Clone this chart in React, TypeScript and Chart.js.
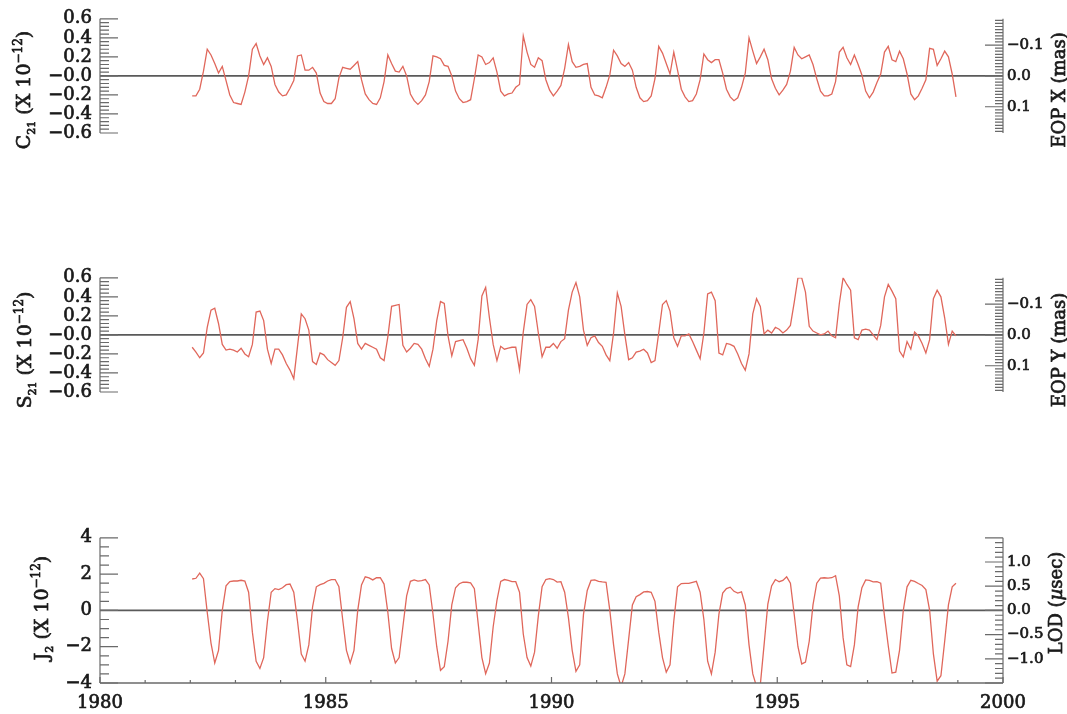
import React, { useEffect, useRef } from 'react';
import { Chart, registerables } from 'chart.js';

Chart.register(...registerables);

// ---------------- data (monthly, Jan 1982 – Dec 1998) ----------------
const FIRST_YEAR = 1982;

const c21: number[] = [
  -0.21, -0.21, -0.14, 0.05, 0.28, 0.22, 0.13, 0.03, 0.10, -0.05, -0.20, -0.28,
  -0.29, -0.30, -0.17, 0.00, 0.28, 0.34, 0.21, 0.12, 0.19, 0.10, -0.09, -0.17,
  -0.21, -0.20, -0.13, -0.05, 0.21, 0.22, 0.06, 0.06, 0.09, 0.03, -0.18, -0.27,
  -0.29, -0.29, -0.24, -0.02, 0.09, 0.08, 0.07, 0.11, 0.15, -0.04, -0.19, -0.25,
  -0.29, -0.30, -0.23, -0.06, 0.22, 0.13, 0.05, 0.04, 0.10, 0.00, -0.19, -0.26,
  -0.30, -0.26, -0.20, -0.06, 0.21, 0.20, 0.18, 0.11, 0.10, 0.00, -0.16, -0.24,
  -0.28, -0.27, -0.25, -0.03, 0.22, 0.20, 0.12, 0.14, 0.19, 0.04, -0.16, -0.21,
  -0.19, -0.18, -0.12, -0.09, 0.42, 0.25, 0.12, 0.09, 0.19, 0.16, -0.04, -0.15,
  -0.21, -0.16, -0.10, 0.08, 0.33, 0.15, 0.09, 0.10, 0.12, 0.13, -0.12, -0.20,
  -0.21, -0.23, -0.12, 0.01, 0.27, 0.21, 0.13, 0.10, 0.14, 0.06, -0.12, -0.23,
  -0.27, -0.26, -0.21, -0.03, 0.31, 0.24, 0.13, 0.02, 0.25, 0.06, -0.14, -0.22,
  -0.27, -0.26, -0.19, -0.04, 0.23, 0.17, 0.14, 0.17, 0.17, 0.03, -0.14, -0.22,
  -0.26, -0.23, -0.12, 0.03, 0.40, 0.26, 0.13, 0.20, 0.28, 0.17, -0.03, -0.13,
  -0.20, -0.15, -0.09, 0.05, 0.30, 0.22, 0.18, 0.20, 0.22, 0.12, -0.03, -0.16,
  -0.21, -0.21, -0.19, -0.06, 0.25, 0.30, 0.19, 0.12, 0.22, 0.12, 0.01, -0.16,
  -0.23, -0.17, -0.07, 0.02, 0.25, 0.31, 0.17, 0.15, 0.26, 0.18, 0.02, -0.19,
  -0.25, -0.21, -0.13, -0.04, 0.29, 0.28, 0.11, 0.18, 0.26, 0.20, 0.02, -0.22,
];

const s21: number[] = [
  -0.13, -0.18, -0.24, -0.19, 0.08, 0.26, 0.28, 0.12, -0.10, -0.16, -0.15, -0.16,
  -0.18, -0.14, -0.20, -0.23, -0.10, 0.24, 0.25, 0.15, -0.15, -0.30, -0.15, -0.15,
  -0.21, -0.30, -0.37, -0.46, -0.12, 0.22, 0.17, 0.05, -0.28, -0.31, -0.19, -0.21,
  -0.26, -0.29, -0.32, -0.27, -0.03, 0.29, 0.35, 0.17, -0.09, -0.15, -0.09, -0.11,
  -0.13, -0.15, -0.24, -0.27, -0.02, 0.30, 0.31, 0.32, -0.11, -0.18, -0.14, -0.09,
  -0.10, -0.15, -0.25, -0.33, -0.15, 0.15, 0.35, 0.33, -0.01, -0.22, -0.07, -0.06,
  -0.05, -0.14, -0.25, -0.32, -0.05, 0.41, 0.50, 0.18, -0.10, -0.27, -0.12, -0.15,
  -0.14, -0.13, -0.13, -0.37, 0.03, 0.32, 0.37, 0.30, 0.02, -0.23, -0.13, -0.13,
  -0.09, -0.14, -0.07, -0.04, 0.26, 0.45, 0.55, 0.40, 0.05, -0.11, -0.03, -0.01,
  -0.08, -0.12, -0.21, -0.27, 0.02, 0.44, 0.30, 0.00, -0.26, -0.24, -0.18, -0.17,
  -0.15, -0.19, -0.29, -0.27, 0.02, 0.32, 0.36, 0.25, -0.03, -0.12, -0.01, -0.01,
  0.01, -0.07, -0.16, -0.25, 0.02, 0.43, 0.45, 0.36, -0.19, -0.21, -0.09, -0.10,
  -0.12, -0.20, -0.30, -0.37, -0.20, 0.22, 0.38, 0.30, 0.01, 0.05, 0.02, 0.08,
  0.06, 0.02, 0.05, 0.10, 0.34, 0.60, 0.60, 0.45, 0.09, 0.04, 0.02, 0.00,
  0.01, 0.04, -0.01, -0.03, 0.33, 0.60, 0.53, 0.47, -0.03, -0.05, 0.05, 0.06,
  0.05, 0.00, -0.05, 0.10, 0.40, 0.53, 0.46, 0.38, -0.17, -0.23, -0.07, -0.15,
  0.03, -0.01, -0.09, -0.19, -0.05, 0.38, 0.47, 0.40, 0.18, -0.10, 0.04, -0.01,
];

const j2: number[] = [
  1.73, 1.77, 2.05, 1.75, -0.10, -1.80, -2.90, -2.20, 0.00, 1.35, 1.59, 1.62,
  1.62, 1.66, 1.62, 1.00, -1.20, -2.80, -3.20, -2.60, -0.60, 1.00, 1.20, 1.15,
  1.25, 1.42, 1.45, 1.00, -0.60, -2.40, -2.80, -1.90, 0.20, 1.30, 1.42, 1.49,
  1.62, 1.70, 1.70, 1.30, -0.50, -2.20, -2.90, -2.20, 0.00, 1.40, 1.85, 1.79,
  1.68, 1.80, 1.80, 1.45, -0.10, -2.10, -2.90, -2.60, -0.90, 0.80, 1.60, 1.68,
  1.61, 1.64, 1.70, 1.40, -0.20, -2.00, -3.30, -3.10, -1.70, 0.30, 1.25, 1.47,
  1.55, 1.55, 1.52, 1.20, -0.70, -2.60, -3.49, -2.90, -0.90, 0.55, 1.60, 1.70,
  1.65, 1.58, 1.58, 1.00, -1.30, -2.60, -3.07, -2.30, -0.30, 1.31, 1.70, 1.75,
  1.70, 1.56, 1.58, 1.00, -0.40, -2.20, -3.36, -3.00, -0.22, 1.10, 1.65, 1.68,
  1.60, 1.57, 1.55, 0.00, -1.90, -3.50, -4.20, -3.50, -1.60, 0.30, 0.75, 0.87,
  1.02, 1.04, 1.00, 0.50, -1.20, -2.60, -3.40, -3.00, -0.60, 1.30, 1.48, 1.49,
  1.49, 1.55, 1.60, 1.00, -0.50, -2.80, -3.50, -2.30, -0.20, 0.95, 1.20, 1.28,
  1.05, 0.95, 1.02, 0.30, -1.90, -3.50, -4.20, -4.10, -1.90, 0.35, 1.35, 1.70,
  1.58, 1.65, 1.85, 1.50, -0.20, -2.00, -2.95, -2.85, -1.70, 0.30, 1.50, 1.78,
  1.80, 1.78, 1.80, 1.91, 0.80, -1.50, -3.00, -3.10, -1.90, 0.20, 1.25, 1.68,
  1.65, 1.57, 1.58, 1.50, -0.30, -1.95, -3.45, -3.40, -2.20, 0.00, 1.30, 1.66,
  1.60, 1.48, 1.37, 1.15, 0.00, -2.40, -3.90, -3.60, -1.70, 0.30, 1.30, 1.50,
];

// mid-month time stamps
const monthTimes: number[] = c21.map((_, k) => FIRST_YEAR + (k + 0.5) / 12);

// ---------------- styling ----------------
const SERIF = '"DejaVu Serif", "Liberation Serif", serif';
const RED = '#e0675b';
const AXIS = '#6a6a6a';
const TEXT = '#1a1a1a';
const TEXT_STROKE = 0.7;

const MINUS = '\u2212';
const fmtDec = (v: number, d: number, negZero: boolean) => {
  const a = Math.abs(v);
  const s = a.toFixed(d);
  if (v < -1e-9 || (negZero && a < 1e-9)) return MINUS + s;
  return s;
};

type Seg = { t: string; size: number; dy?: number; style?: string };

type PanelSpec = {
  top: number;
  height: number;
  values: number[];
  yMin: number; yMax: number; yStep: number; yMinor: number;
  yFmt: (v: number) => string;
  rMin: number; rMax: number; rStep: number; rMinor: number; rReverse: boolean;
  rLabelMax: number;
  rFmt: (v: number) => string;
  leftTitle: Seg[]; leftTitleX: number; leftTitleY: number;
  rightTitle: Seg[]; rightTitleX: number; rightTitleY: number;
  showX: boolean;
};

const sciSuffix = (): Seg[] => [
  { t: ' (X 10', size: 19 },
  { t: MINUS + '12', size: 12, dy: -8 },
  { t: ')', size: 19 },
];

const panels: PanelSpec[] = [
  {
    top: 0, height: 180, values: c21,
    yMin: -0.6, yMax: 0.6, yStep: 0.2, yMinor: 0.04, yFmt: (v) => fmtDec(v, 1, true),
    rMin: -0.185, rMax: 0.185, rStep: 0.1, rMinor: 0.01, rReverse: true, rLabelMax: 0.15,
    rFmt: (v) => fmtDec(v, 1, false),
    leftTitle: [{ t: 'C', size: 19 }, { t: '21', size: 11, dy: 5 }, ...sciSuffix()],
    leftTitleX: 23, leftTitleY: 90,
    rightTitle: [{ t: 'EOP X (mas)', size: 18 }], rightTitleX: 1059, rightTitleY: 90,
    showX: false,
  },
  {
    top: 259, height: 180, values: s21,
    yMin: -0.6, yMax: 0.6, yStep: 0.2, yMinor: 0.04, yFmt: (v) => fmtDec(v, 1, true),
    rMin: -0.185, rMax: 0.185, rStep: 0.1, rMinor: 0.01, rReverse: true, rLabelMax: 0.15,
    rFmt: (v) => fmtDec(v, 1, false),
    leftTitle: [{ t: 'S', size: 19 }, { t: '21', size: 11, dy: 5 }, ...sciSuffix()],
    leftTitleX: 24, leftTitleY: 91,
    rightTitle: [{ t: 'EOP Y (mas)', size: 18 }], rightTitleX: 1059, rightTitleY: 91,
    showX: false,
  },
  {
    top: 519, height: 195, values: j2,
    yMin: -4, yMax: 4, yStep: 2, yMinor: 0.5, yFmt: (v) => fmtDec(v, 0, false),
    rMin: -1.5, rMax: 1.5, rStep: 0.5, rMinor: 0.1, rReverse: false, rLabelMax: 1.2,
    rFmt: (v) => fmtDec(v, 1, false),
    leftTitle: [{ t: 'J', size: 19 }, { t: '2', size: 11, dy: 5 }, ...sciSuffix()],
    leftTitleX: 41, leftTitleY: 89,
    rightTitle: [{ t: 'LOD (', size: 18 }, { t: '\u00b5', size: 18, style: 'italic' }, { t: 'sec)', size: 18 }],
    rightTitleX: 1056, rightTitleY: 84,
    showX: true,
  },
];

// ---------------- drawing helpers ----------------
function drawRich(ctx: CanvasRenderingContext2D, cx: number, cy: number, segs: Seg[]) {
  ctx.save();
  ctx.translate(cx, cy);
  ctx.rotate(-Math.PI / 2);
  ctx.fillStyle = TEXT;
  ctx.strokeStyle = TEXT;
  ctx.lineWidth = TEXT_STROKE;
  ctx.textBaseline = 'alphabetic';
  ctx.textAlign = 'left';
  const fontOf = (s: Seg) => `${s.style || 'normal'} normal ${s.size}px ${SERIF}`;
  let total = 0;
  const widths = segs.map((s) => {
    ctx.font = fontOf(s);
    const w = ctx.measureText(s.t).width;
    total += w;
    return w;
  });
  const base = Math.max(...segs.map((s) => s.size)) * 0.36;
  let x = -total / 2;
  segs.forEach((s, i) => {
    ctx.font = fontOf(s);
    ctx.fillText(s.t, x, base + (s.dy || 0));
    ctx.strokeText(s.t, x, base + (s.dy || 0));
    x += widths[i];
  });
  ctx.restore();
}

function tickValues(min: number, max: number, step: number): number[] {
  const out: number[] = [];
  const i0 = Math.ceil(min / step - 1e-9);
  const i1 = Math.floor(max / step + 1e-9);
  for (let i = i0; i <= i1; i++) out.push(i * step);
  return out;
}
const isMultiple = (v: number, step: number) => Math.abs(v / step - Math.round(v / step)) < 1e-6;

const axesPlugin = {
  id: 'panelAxes',
  beforeDatasetsDraw(chart: any) {
    const { ctx, chartArea } = chart;
    const y0 = chart.scales.y.getPixelForValue(0);
    ctx.save();
    ctx.strokeStyle = '#5a5a5a';
    ctx.lineWidth = 1.6;
    ctx.beginPath();
    ctx.moveTo(chartArea.left, y0);
    ctx.lineTo(chartArea.right, y0);
    ctx.stroke();
    ctx.restore();
  },
  afterDraw(chart: any, _a: any, o: PanelSpec) {
    const { ctx, chartArea } = chart;
    const { left, right, top, bottom } = chartArea;
    const ys = chart.scales.y;
    const rs = chart.scales.y2;
    ctx.save();
    ctx.strokeStyle = AXIS;
    ctx.lineWidth = 1.2;
    ctx.beginPath();
    // left axis
    ctx.moveTo(left, top);
    ctx.lineTo(left, bottom);
    tickValues(o.yMin, o.yMax, o.yMinor).forEach((v) => {
      const p = ys.getPixelForValue(v);
      const len = isMultiple(v, o.yStep) ? 18 : 9;
      ctx.moveTo(left, p);
      ctx.lineTo(left + len, p);
    });
    // right axis
    ctx.moveTo(right, top);
    ctx.lineTo(right, bottom);
    tickValues(o.rMin, o.rMax, o.rMinor).forEach((v) => {
      const p = rs.getPixelForValue(v);
      const len = isMultiple(v, o.rStep) ? 18 : 8;
      ctx.moveTo(right, p);
      ctx.lineTo(right - len, p);
    });
    ctx.stroke();
    if (o.showX) {
      const xs = chart.scales.x;
      ctx.beginPath();
      ctx.lineWidth = 1.6;
      ctx.moveTo(left, bottom);
      ctx.lineTo(right, bottom);
      ctx.stroke();
      ctx.beginPath();
      ctx.lineWidth = 1.2;
      tickValues(1980, 2000, 1).forEach((v) => {
        const p = xs.getPixelForValue(v);
        const len = isMultiple(v, 5) ? 6 : 3;
        ctx.moveTo(p, bottom);
        ctx.lineTo(p, bottom - len);
      });
      ctx.stroke();
    }
    ctx.restore();
    drawRich(ctx, o.leftTitleX, o.leftTitleY, o.leftTitle);
    drawRich(ctx, o.rightTitleX, o.rightTitleY, o.rightTitle);
  },
};

function buildConfig(spec: PanelSpec): any {
  const tickBase = { color: TEXT, textStrokeColor: TEXT, textStrokeWidth: TEXT_STROKE, autoSkip: false };
  return {
    type: 'line',
    data: {
      datasets: [
        {
          data: monthTimes.map((x, i) => ({ x, y: spec.values[i] })),
          borderColor: RED,
          borderWidth: 1.3,
          pointRadius: 0,
          tension: 0,
          fill: false,
          yAxisID: 'y',
          xAxisID: 'x',
        },
      ],
    },
    options: {
      animation: false,
      responsive: false,
      devicePixelRatio: 1,
      events: [],
      layout: { padding: { top: 16, bottom: spec.showX ? 0 : 16, left: 0, right: 0 } },
      plugins: {
        legend: { display: false },
        tooltip: { enabled: false },
        panelAxes: spec,
      },
      scales: {
        x: {
          type: 'linear',
          position: 'bottom',
          min: 1980,
          max: 2000,
          display: spec.showX,
          grid: { display: false, drawTicks: false },
          border: { display: false },
          ticks: {
            ...tickBase,
            stepSize: 5,
            padding: 10,
            maxRotation: 0,
            font: { family: SERIF, size: 18 },
            callback: (v: number) => String(Math.round(v)),
          },
          afterFit: (s: any) => { s.height = 31; },
        },
        y: {
          type: 'linear',
          position: 'left',
          min: spec.yMin,
          max: spec.yMax,
          grid: { display: false, drawTicks: false },
          border: { display: false },
          ticks: {
            ...tickBase,
            stepSize: spec.yStep,
            padding: 8,
            font: { family: SERIF, size: 18 },
            callback: (v: number) => spec.yFmt(v),
          },
          afterFit: (s: any) => { s.width = 100; },
        },
        y2: {
          type: 'linear',
          position: 'right',
          min: spec.rMin,
          max: spec.rMax,
          reverse: spec.rReverse,
          grid: { display: false, drawTicks: false },
          border: { display: false },
          ticks: {
            ...tickBase,
            stepSize: spec.rStep,
            includeBounds: false,
            padding: 4,
            font: { family: SERIF, size: 15 },
            callback: (v: number) => (Math.abs(v) > spec.rLabelMax ? null : spec.rFmt(v)),
          },
          afterFit: (s: any) => { s.width = 64; },
        },
      },
    },
    plugins: [axesPlugin],
  };
}

function Panel({ spec }: { spec: PanelSpec }) {
  const ref = useRef<HTMLCanvasElement>(null);
  useEffect(() => {
    if (!ref.current) return;
    const chart = new Chart(ref.current, buildConfig(spec));
    return () => chart.destroy();
  }, [spec]);
  return (
    <canvas
      ref={ref}
      width={1067}
      height={spec.height}
      style={{ position: 'absolute', left: 0, top: spec.top, width: 1067, height: spec.height }}
    />
  );
}

export default function App() {
  return (
    <div style={{ position: 'absolute', left: 0, top: 0, width: 1067, height: 714, background: '#ffffff', overflow: 'hidden' }}>
      {panels.map((p, i) => (
        <Panel key={i} spec={p} />
      ))}
    </div>
  );
}
